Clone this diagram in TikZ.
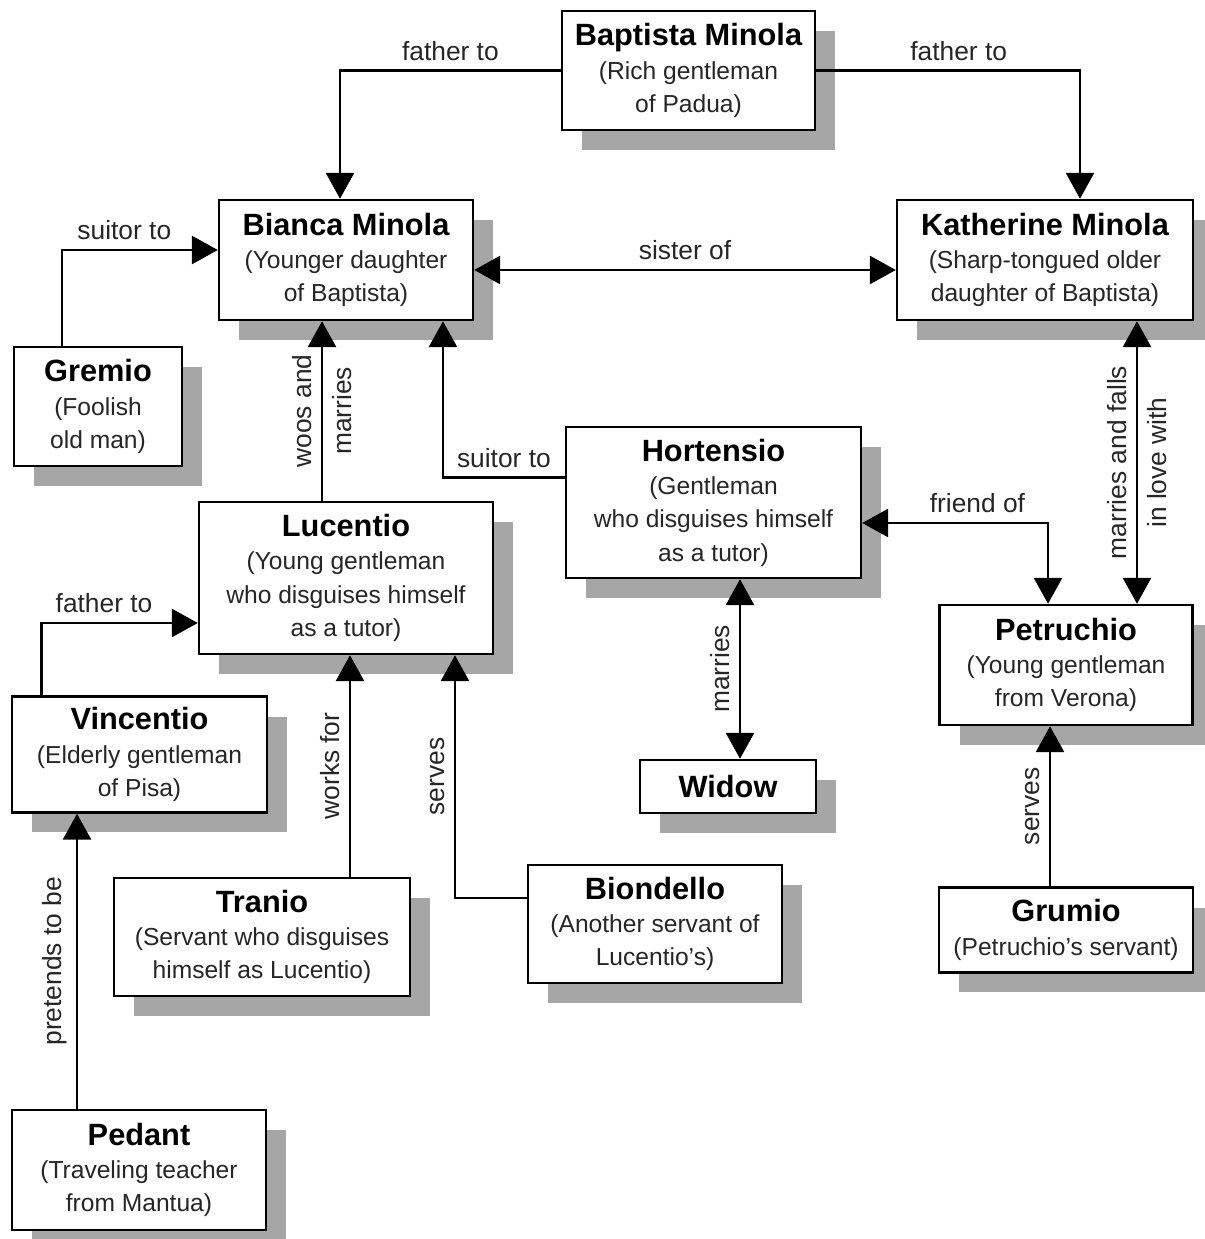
\documentclass[tikz,border=0pt]{standalone}
\usepackage{fontspec}
\setmainfont{Liberation Sans}
\usetikzlibrary{arrows.meta,shadows}
\tikzset{
  person/.style={draw,fill=white,line width=1.4pt,align=center,inner sep=0pt,
    font=\fontsize{14}{19}\selectfont,text=black!85,
    drop shadow={shadow xshift=0.4cm,shadow yshift=-0.4cm,fill=black!35,opacity=1}},
  link/.style={line width=1.6pt,-{Triangle[length=0.52cm,width=0.56cm]}},
  link2/.style={line width=1.6pt,{Triangle[length=0.52cm,width=0.56cm]}-{Triangle[length=0.52cm,width=0.56cm]}},
  lbl/.style={font=\fontsize{15}{17}\selectfont,text=black!85,inner sep=5pt}
}
\newcommand{\pname}[1]{{\fontsize{17.5}{19}\selectfont\bfseries\color{black}#1}}

\begin{document}
\begin{tikzpicture}[x=0.02cm,y=-0.02cm]
\useasboundingbox (0,0) rectangle (1204,1239);

% people
\node[person,minimum width=5.06cm,minimum height=2.38cm] (baptista) at (688.5,70.5) {\pname{Baptista Minola}\\(Rich gentleman\\of Padua)};
\node[person,minimum width=5.08cm,minimum height=2.4cm] (bianca) at (346,260) {\pname{Bianca Minola}\\(Younger daughter\\of Baptista)};
\node[person,minimum width=5.92cm,minimum height=2.4cm] (katherine) at (1045,260) {\pname{Katherine Minola}\\(Sharp-tongued older\\daughter of Baptista)};
\node[person,minimum width=3.36cm,minimum height=2.38cm] (gremio) at (98,406.5) {\pname{Gremio}\\(Foolish\\old man)};
\node[person,minimum width=5.88cm,minimum height=3.04cm] (lucentio) at (346,578) {\pname{Lucentio}\\(Young gentleman\\who disguises himself\\as a tutor)};
\node[person,minimum width=5.9cm,minimum height=3.02cm] (hortensio) at (713.5,502.5) {\pname{Hortensio}\\(Gentleman\\who disguises himself\\as a tutor)};
\node[person,minimum width=5.06cm,minimum height=2.4cm] (petruchio) at (1066,665) {\pname{Petruchio}\\(Young gentleman\\from Verona)};
\node[person,minimum width=3.52cm,minimum height=1.06cm] (widow) at (728,786.5) {\pname{Widow}};
\node[person,minimum width=5.1cm,minimum height=2.32cm] (vincentio) at (139.5,754.5) {\pname{Vincentio}\\(Elderly gentleman\\of Pisa)};
\node[person,minimum width=5.92cm,minimum height=2.36cm] (tranio) at (262,937) {\pname{Tranio}\\(Servant who disguises\\himself as Lucentio)};
\node[person,minimum width=5.08cm,minimum height=2.36cm] (biondello) at (655,924) {\pname{Biondello}\\(Another servant of\\Lucentio’s)};
\node[person,minimum width=5.08cm,minimum height=1.7cm] (grumio) at (1066,930) {\pname{Grumio}\\(Petruchio’s servant)};
\node[person,minimum width=5.08cm,minimum height=2.4cm] (pedant) at (139,1170) {\pname{Pedant}\\(Traveling teacher\\from Mantua)};

% relations
\draw[link] (baptista.west) -| ([xshift=-0.12cm]bianca.north) node[lbl,pos=0.25,above] {father to};
\draw[link] (baptista.east) -| ([xshift=0.7cm]katherine.north) node[lbl,pos=0.27,above] {father to};
\draw[link] ([xshift=-0.72cm]gremio.north) |- ([yshift=0.2cm]bianca.west) node[lbl,pos=0.7,above] {suitor to};
\draw[link2] ([yshift=-0.2cm]bianca.east) -- ([yshift=-0.2cm]katherine.west) node[lbl,midway,above] {sister of};
\draw[link] ([xshift=-0.48cm]lucentio.north) -- ([xshift=-0.48cm]bianca.south)
  node[lbl,midway,rotate=90,anchor=south] {woos and}
  node[lbl,midway,rotate=90,anchor=north] {marries};
\draw[link] ([yshift=0.5cm]hortensio.west) -| ([xshift=1.94cm]bianca.south) node[lbl,pos=0.25,above] {suitor to};
\draw[link2] ([xshift=1.84cm]katherine.south) coordinate (kp) -- (kp |- petruchio.north)
  node[lbl,midway,rotate=90,anchor=south] {marries and falls}
  node[lbl,midway,rotate=90,anchor=north] {in love with};
\draw[link2] ([yshift=-0.41cm]hortensio.east) -| ([xshift=-0.36cm]petruchio.north) node[lbl,pos=0.31,above] {friend of};
\draw[link2] ([xshift=0.53cm]hortensio.south) coordinate (hw) -- (hw |- widow.north)
  node[lbl,midway,rotate=90,anchor=south] {marries};
\draw[link] ([xshift=-1.96cm]vincentio.north) |- ([yshift=-0.9cm]lucentio.west) node[lbl,pos=0.7,above] {father to};
\draw[link] ([xshift=1.76cm]tranio.north) coordinate (tl) -- (tl |- lucentio.south)
  node[lbl,midway,rotate=90,anchor=south] {works for};
\draw[link] ([yshift=0.52cm]biondello.west) -| ([xshift=2.18cm]lucentio.south) node[lbl,pos=0.75,rotate=90,anchor=south] {serves};
\draw[link] ([xshift=-0.32cm]grumio.north) coordinate (gp) -- (gp |- petruchio.south)
  node[lbl,midway,rotate=90,anchor=south] {serves};
\draw[link] ([xshift=-1.24cm]pedant.north) coordinate (pv) -- (pv |- vincentio.south)
  node[lbl,midway,rotate=90,anchor=south] {pretends to be};

\end{tikzpicture}
\end{document}
